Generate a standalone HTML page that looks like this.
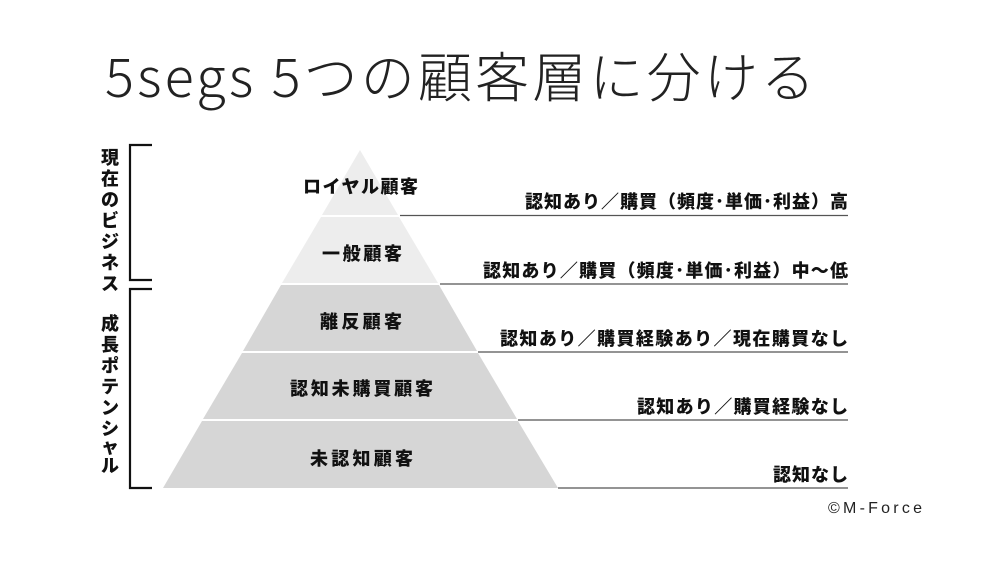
<!DOCTYPE html>
<html><head><meta charset="utf-8"><style>
body{margin:0;background:#fff;}
svg{display:block;}
text{font-family:"Liberation Sans","Noto Sans CJK JP",sans-serif;}
</style></head><body>
<svg width="1000" height="563" viewBox="0 0 1000 563" xmlns="http://www.w3.org/2000/svg">
<text x="105" y="97" font-size="54" fill="#222" textLength="710" lengthAdjust="spacing" style="font-family:'Noto Sans CJK JP',sans-serif;font-weight:300">5segs  5つの顧客層に分ける</text>
<polygon points="360,150 398,215 322,215" fill="#ededed"/>
<polygon points="321,217 399,217 438,283 282,283" fill="#ededed"/>
<polygon points="281,285 439,285 477,351 243,351" fill="#d6d6d6"/>
<polygon points="242,353 478,353 517,419 203,419" fill="#d6d6d6"/>
<polygon points="202,421 518,421 558,488 163,488" fill="#d6d6d6"/>
<g stroke="#555" stroke-width="1.3">
<line x1="400" y1="215.5" x2="848" y2="215.5"/>
<line x1="440" y1="284" x2="848" y2="284"/>
<line x1="478" y1="352" x2="848" y2="352"/>
<line x1="518" y1="420" x2="848" y2="420"/>
<line x1="558" y1="488" x2="848" y2="488"/>
</g>
<g stroke="#111" stroke-width="2.2" fill="none">
<polyline points="152,145 130,145 130,280 152,280"/>
<polyline points="152,289 130,289 130,488 152,488"/>
</g>
<g font-size="18" font-weight="900" fill="#111" lengthAdjust="spacingAndGlyphs">
<text x="303" y="193" textLength="115">ロイヤル顧客</text>
<text x="322" y="260" textLength="80">一般顧客</text>
<text x="320" y="328" textLength="82">離反顧客</text>
<text x="290" y="395" textLength="143">認知未購買顧客</text>
<text x="310" y="465" textLength="103">未認知顧客</text>
</g>
<g font-size="18" font-weight="900" fill="#111" lengthAdjust="spacingAndGlyphs">
<text x="525" y="208" textLength="323">認知あり／購買（頻度･単価･利益）高</text>
<text x="483" y="277" textLength="365">認知あり／購買（頻度･単価･利益）中～低</text>
<text x="500" y="345" textLength="348">認知あり／購買経験あり／現在購買なし</text>
<text x="637" y="413" textLength="211">認知あり／購買経験なし</text>
<text x="773" y="481" textLength="75">認知なし</text>
</g>
<g font-size="18" font-weight="900" fill="#111" text-anchor="middle">
<text x="110" y="164">現</text><text x="110" y="185">在</text><text x="110" y="206">の</text><text x="110" y="227">ビ</text><text x="110" y="248">ジ</text><text x="110" y="269">ネ</text><text x="110" y="290">ス</text>
</g>
<g font-size="18" font-weight="900" fill="#111" text-anchor="middle">
<text x="110" y="330">成</text><text x="110" y="351">長</text><text x="110" y="372">ポ</text><text x="110" y="393">テ</text><text x="110" y="414">ン</text><text x="110" y="435">シ</text><text x="110" y="453">ャ</text><text x="110" y="472">ル</text>
</g>
<text x="828" y="513" font-size="16" fill="#222" textLength="94">©M-Force</text>
</svg>
</body></html>
